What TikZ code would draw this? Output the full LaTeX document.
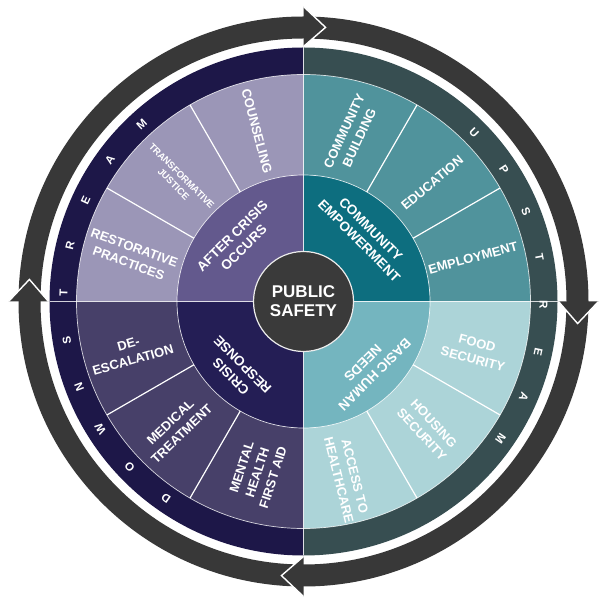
\documentclass[tikz,border=0pt]{standalone}
\usepackage{fontspec}
\setmainfont{Liberation Sans}
\definecolor{ringgray}{HTML}{383838}
\definecolor{navyband}{HTML}{1D1748}
\definecolor{slateband}{HTML}{374E51}
\definecolor{tlout}{HTML}{9B96B7}
\definecolor{tlin}{HTML}{63598D}
\definecolor{blout}{HTML}{474069}
\definecolor{blin}{HTML}{241E55}
\definecolor{trout}{HTML}{50939C}
\definecolor{trin}{HTML}{0D6E7F}
\definecolor{brout}{HTML}{ACD4D8}
\definecolor{brin}{HTML}{74B5BF}
\definecolor{hubgray}{HTML}{3A3A3A}
\newcommand{\annsec}[5]{%
  \fill[#1] (#2:#5pt) arc[start angle=#2, end angle=#3, radius=#5pt]
    -- (#3:#4pt) arc[start angle=#3, end angle=#2, radius=#4pt] -- cycle;}
\tikzset{
  lab/.style={text=white, font=\bfseries\fontsize{13}{16.5}\selectfont, align=center, inner sep=0pt},
  labsm/.style={lab, font=\bfseries\fontsize{9.5}{11.5}\selectfont},
  labin/.style={lab, font=\bfseries\fontsize{13.5}{16.5}\selectfont},
  bandlet/.style={text=white, font=\bfseries\fontsize{11.5}{12}\selectfont, inner sep=0pt},
  divline/.style={white, line width=1.2pt},
  thinline/.style={white, line width=0.7pt, opacity=0.8}
}
\begin{document}
\begin{tikzpicture}[x=1pt,y=1pt]
\fill[white] (0,0) rectangle (598,600);
\useasboundingbox (0,0) rectangle (598,600);
\begin{scope}[shift={(303.5,298.5)}]
  % outer arrow ring
  \fill[ringgray, even odd rule] (0,0) circle[radius=285pt] (0,0) circle[radius=263pt];
  % bands
  \annsec{navyband}{90}{270}{226}{254}
  \annsec{slateband}{-90}{90}{226}{254}
  % outer sectors
  \annsec{tlout}{90}{180}{126.5}{227}
  \annsec{blout}{180}{270}{126.5}{227}
  \annsec{trout}{0}{90}{126.5}{227}
  \annsec{brout}{-90}{0}{126.5}{227}
  % inner sectors
  \annsec{tlin}{90}{180}{50}{126.5}
  \annsec{blin}{180}{270}{50}{126.5}
  \annsec{trin}{0}{90}{50}{126.5}
  \annsec{brin}{-90}{0}{50}{126.5}
  % white lines
  \draw[thinline] (0,0) circle[radius=227pt];
  \draw[thinline] (0,0) circle[radius=126.5pt];
  \foreach \a in {30,60,120,150,210,240,300,330}
    \draw[divline] (\a:126.5pt) -- (\a:227pt);
  \foreach \a in {0,90,180,270}
    \draw[thinline] (\a:50pt) -- (\a:254pt);
  % arrowheads (clockwise)
  \foreach \q in {90,0,-90,180} {
    \fill[ringgray] (\q:255pt) -- (\q-4.6:275pt) -- (\q:295pt) -- cycle;
    \draw[white, line width=1.4pt] (\q:255pt) -- (\q-4.6:275pt) -- (\q:295pt);
  }
  % hub
  \node[circle, fill=hubgray, draw=white!85!gray, line width=1.2pt, minimum size=100pt,
        inner sep=0pt, text=white, align=center,
        font=\bfseries\fontsize{17}{19}\selectfont] (hub) at (0,0) {PUBLIC\\SAFETY};
  % inner labels
  \node[labin, rotate=45] (after) at (137.7:88.5pt) {AFTER CRISIS\\OCCURS};
  \node[labin, rotate=-45] (comemp) at (47.2:90.6pt) {COMMUNITY\\EMPOWERMENT};
  \node[labin, rotate=-135] (basic) at (-45.9:94pt) {BASIC HUMAN\\NEEDS};
  \node[labin, rotate=135] (crisis) at (226:96pt) {CRISIS\\RESPONSE};
  % outer labels
  \node[lab, rotate=-75] (counseling) at (105.3:176.7pt) {COUNSELING};
  \node[labsm, rotate=-45] (transj) at (136:175pt) {TRANSFORMATIVE\\JUSTICE};
  \node[lab, rotate=-20] (restor) at (165:178pt) {RESTORATIVE\\PRACTICES};
  \node[lab, rotate=65] (combuild) at (73.9:174pt) {COMMUNITY\\BUILDING};
  \node[lab, rotate=40] (educ) at (42.7:175pt) {EDUCATION};
  \node[lab, rotate=15] (employ) at (14.4:175pt) {EMPLOYMENT};
  \node[lab, rotate=-15] (food) at (-16.1:178.5pt) {FOOD\\SECURITY};
  \node[lab, rotate=-47] (housing) at (-45.7:178pt) {HOUSING\\SECURITY};
  \node[lab, rotate=-76] (access) at (-76.2:182pt) {ACCESS TO\\HEALTHCARE};
  \node[lab, rotate=16] (deesc) at (196.3:180pt) {DE-\\ESCALATION};
  \node[lab, rotate=44] (medical) at (224.8:179.6pt) {MEDICAL\\TREATMENT};
  \node[lab, rotate=72] (mhfa) at (254.9:177pt) {MENTAL\\HEALTH\\FIRST AID};
  % band letters
  \foreach \ang/\ch [count=\i] in {235/D,223.6/O,212.2/W,200.8/N,189.4/S,178/T,166.6/R,155.2/E,143.8/A,132.4/M}
    \node[bandlet, rotate=\ang-90] (down\i) at (\ang:240pt) {\ch};
  \foreach \ang/\ch [count=\i] in {44.7/U,33.35/P,22/S,10.65/T,-0.7/R,-12.05/E,-23.4/A,-34.75/M}
    \node[bandlet, rotate=\ang-90] (up\i) at (\ang:240pt) {\ch};
\end{scope}
\end{tikzpicture}
\end{document}
